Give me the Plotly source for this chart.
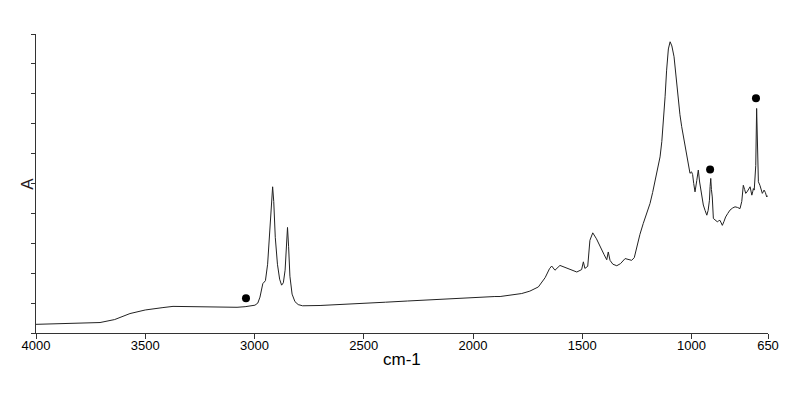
import plotly.graph_objects as go

# Spectrum (wavenumber cm-1, absorbance)
wavenumber = [4000, 3900, 3800, 3707, 3640, 3570, 3500, 3450, 3419, 3373, 3300, 3249, 3180, 3112, 3080,
              3043, 3020, 2998, 2985, 2975, 2962, 2950, 2940, 2930, 2922, 2917, 2912, 2905, 2895,
              2885, 2876, 2868, 2860, 2854, 2849, 2844, 2838, 2828, 2815, 2800, 2792, 2780, 2700,
              2600, 2500, 2400, 2300, 2200, 2100, 2000, 1900, 1876, 1820, 1777, 1740, 1701, 1670,
              1650, 1640, 1625, 1602, 1575, 1548, 1525, 1503, 1495, 1488, 1475, 1465, 1456, 1452,
              1435, 1419, 1400, 1388, 1381, 1373, 1360, 1342, 1325, 1304, 1290, 1274, 1262, 1251,
              1236, 1221, 1205, 1190, 1178, 1167, 1155, 1144, 1136, 1129, 1121, 1114, 1106, 1098,
              1090, 1080, 1070, 1061, 1053, 1045, 1035, 1025, 1015, 1007, 1000, 995, 990, 984,
              976, 969, 963, 958, 952, 946, 938, 930, 924, 918, 915, 912, 909, 905, 900,
              891, 882, 876, 870, 864, 859, 852, 844, 834, 824, 812, 801, 790, 778, 770,
              763, 757, 752, 746, 740, 732, 728, 724, 720, 717, 713, 710, 706, 702, 698,
              694, 687, 681, 676, 672, 668, 662, 656, 650]
absorbance = [0.029, 0.031, 0.033, 0.035, 0.045, 0.065, 0.077, 0.083, 0.085, 0.089, 0.088, 0.087, 0.086, 0.085, 0.086,
              0.088, 0.090, 0.093, 0.100, 0.120, 0.165, 0.175, 0.230, 0.330, 0.440, 0.489, 0.440, 0.320, 0.230,
              0.180, 0.160, 0.168, 0.210, 0.300, 0.353, 0.290, 0.190, 0.130, 0.105, 0.095, 0.093, 0.091, 0.092,
              0.095, 0.099, 0.103, 0.107, 0.111, 0.115, 0.120, 0.122, 0.122, 0.127, 0.132, 0.140, 0.154, 0.185,
              0.215, 0.224, 0.210, 0.226, 0.218, 0.210, 0.204, 0.212, 0.238, 0.216, 0.223, 0.310, 0.330, 0.335,
              0.315, 0.288, 0.262, 0.245, 0.271, 0.243, 0.230, 0.225, 0.232, 0.249, 0.246, 0.243, 0.252, 0.290,
              0.330, 0.366, 0.400, 0.433, 0.470, 0.511, 0.550, 0.589, 0.640, 0.700, 0.790, 0.879, 0.950, 0.974,
              0.960, 0.924, 0.850, 0.779, 0.730, 0.690, 0.650, 0.612, 0.570, 0.534, 0.539, 0.530, 0.500, 0.472,
              0.510, 0.545, 0.505, 0.478, 0.450, 0.428, 0.410, 0.394, 0.410, 0.444, 0.490, 0.517, 0.480, 0.455, 0.383,
              0.378, 0.372, 0.375, 0.377, 0.368, 0.360, 0.372, 0.388, 0.400, 0.411, 0.418, 0.422, 0.420, 0.416, 0.440,
              0.494, 0.480, 0.467, 0.472, 0.478, 0.489, 0.475, 0.461, 0.472, 0.483, 0.478, 0.506, 0.560, 0.751, 0.600,
              0.506, 0.494, 0.482, 0.467, 0.472, 0.478, 0.470, 0.455, 0.460]

# Marked peaks
peak_x = [3039, 915, 705]
peak_y = [0.116, 0.547, 0.785]

x_tickvals = [4000, 3500, 3000, 2500, 2000, 1500, 1000, 650]
x_ticktext = ["4000", "3500", "3000", "2500", "2000", "1500", "1000", "650"]

fig = go.Figure()
fig.add_trace(go.Scatter(x=wavenumber, y=absorbance, mode="lines",
                         line=dict(color="#222222", width=1), showlegend=False))
fig.add_trace(go.Scatter(x=peak_x, y=peak_y, mode="markers",
                         marker=dict(color="black", size=8), showlegend=False))

# page body has an 8px default margin; figure sized/margined to compensate
fig.update_layout(
    width=784, height=377,
    margin=dict(l=28, r=24, t=26, b=52),
    paper_bgcolor="white", plot_bgcolor="white",
    font=dict(family="Liberation Sans, Arial, sans-serif", color="black"),
    xaxis=dict(range=[4000, 650], tickmode="array", tickvals=x_tickvals, ticktext=x_ticktext,
               ticks="outside", ticklen=5, tickcolor="#333", showline=True, linecolor="#333",
               linewidth=1, showgrid=False, zeroline=False, tickfont=dict(size=13),
               ticklabelstandoff=-5),
    yaxis=dict(range=[0, 1], tick0=0, dtick=0.1, ticks="outside", ticklen=4, tickcolor="#333",
               showline=True, linecolor="#333", linewidth=1, showgrid=False, zeroline=False,
               showticklabels=False),
    annotations=[
        dict(text="cm-1", xref="paper", yref="paper", x=0.5, y=-0.09, showarrow=False,
             xanchor="center", yanchor="middle", font=dict(size=17, color="black")),
        dict(text="A", xref="paper", yref="paper", x=-0.012, y=0.5, showarrow=False,
             textangle=-90, xanchor="center", yanchor="middle", font=dict(size=17, color="#2a1a1a")),
    ],
)

fig.write_html("out.html")
